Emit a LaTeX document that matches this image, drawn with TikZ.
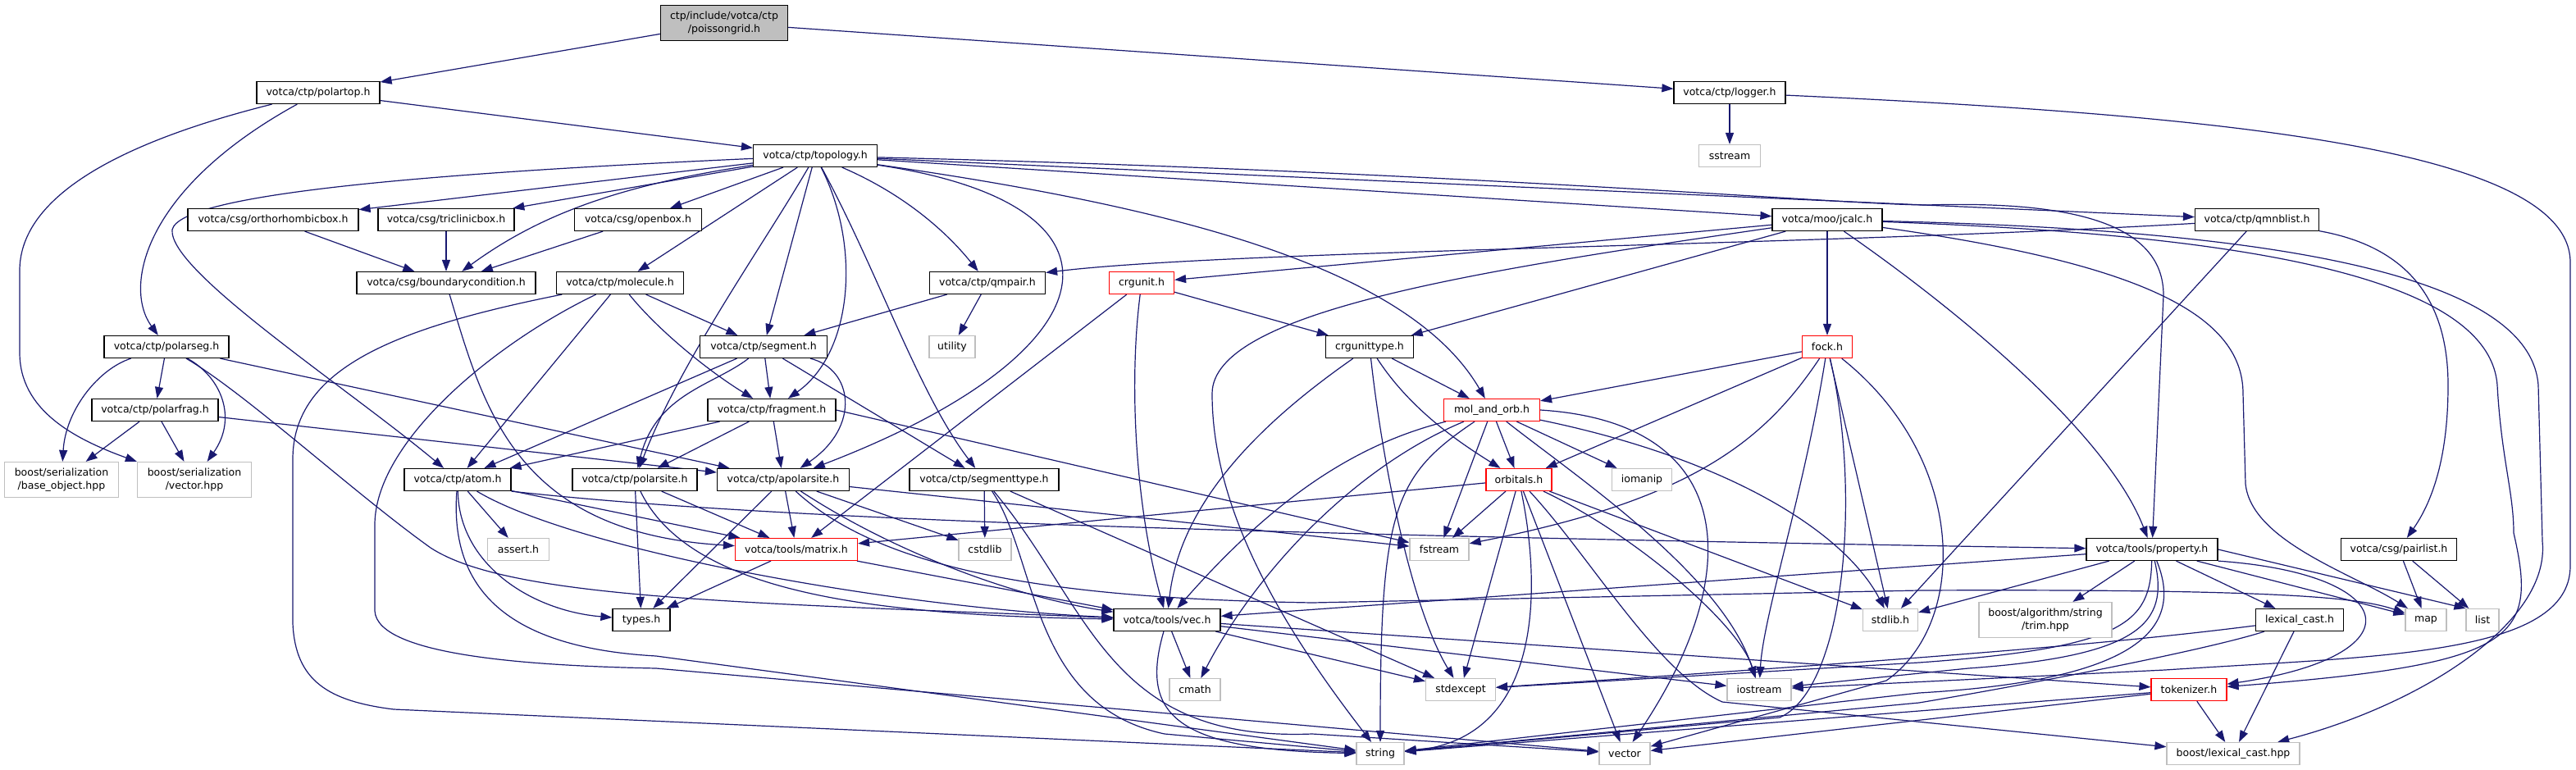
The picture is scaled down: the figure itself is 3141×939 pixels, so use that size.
\documentclass[tikz,border=0pt]{standalone}
\usepackage{fontspec}
\newfontfamily\dvs{DejaVu Sans}
\usetikzlibrary{arrows.meta}
\definecolor{edgec}{HTML}{191970}
\definecolor{extc}{HTML}{BFBFBF}
\pgfdeclarelayer{background}
\pgfsetlayers{background,main}
\begin{document}
\begin{tikzpicture}[x=1pt,y=-1pt,
  nd/.style={draw=black,fill=white,line width=1.2pt,minimum height=27pt,inner sep=0pt,
             font=\dvs\fontsize{12.5}{16}\selectfont,align=center},
  ext/.style={nd,draw=extc},
  trunc/.style={nd,draw=red},
  rootnd/.style={nd,fill=extc,draw=black},
  tall/.style={minimum height=43pt},
  conn/.style={draw=edgec,line width=1.2pt,-{Triangle[length=14pt,width=10pt]}}
]
\useasboundingbox (0,0) rectangle (3141,939);
% ---------------- nodes ----------------
\node[rootnd,tall,minimum width=155pt] (pg) at (883,28) {ctp/include/votca/ctp\\/poissongrid.h};
\node[nd,minimum width=150pt] (polartop) at (388,113) {votca/ctp/polartop.h};
\node[nd,minimum width=136pt] (logger) at (2109,113) {votca/ctp/logger.h};
\node[ext,minimum width=75pt] (sstream) at (2109,190) {sstream};
\node[nd,minimum width=151pt] (topology) at (994,190) {votca/ctp/topology.h};
\node[nd,minimum width=208pt] (ortho) at (333,268) {votca/csg/orthorhombicbox.h};
\node[nd,minimum width=166pt] (tricl) at (544,268) {votca/csg/triclinicbox.h};
\node[nd,minimum width=155pt] (openbox) at (778,268) {votca/csg/openbox.h};
\node[nd,minimum width=134pt] (jcalc) at (2228,268) {votca/moo/jcalc.h};
\node[nd,minimum width=151pt] (qmnblist) at (2752,268) {votca/ctp/qmnblist.h};
\node[nd,minimum width=218pt] (bc) at (544,345) {votca/csg/boundarycondition.h};
\node[nd,minimum width=155pt] (molecule) at (756,345) {votca/ctp/molecule.h};
\node[nd,minimum width=141pt] (qmpair) at (1204,345) {votca/ctp/qmpair.h};
\node[trunc,minimum width=79pt] (crgunit) at (1392,345) {crgunit.h};
\node[nd,minimum width=152pt] (polarseg) at (203,423) {votca/ctp/polarseg.h};
\node[nd,minimum width=155pt] (segment) at (931,423) {votca/ctp/segment.h};
\node[ext,minimum width=56pt] (utility) at (1161,423) {utility};
\node[nd,minimum width=107pt] (crgunittype) at (1670,423) {crgunittype.h};
\node[trunc,minimum width=61pt] (fock) at (2228,423) {fock.h};
\node[nd,minimum width=154pt] (polarfrag) at (189,500) {votca/ctp/polarfrag.h};
\node[nd,minimum width=156pt] (fragment) at (941,500) {votca/ctp/fragment.h};
\node[trunc,minimum width=117pt] (molorb) at (1819,500) {mol\_and\_orb.h};
\node[ext,tall,minimum width=139pt] (baseobj) at (75,585) {boost/serialization\\/base\_object.hpp};
\node[ext,tall,minimum width=139pt] (vechpp) at (237,585) {boost/serialization\\/vector.hpp};
\node[nd,minimum width=130pt] (atom) at (558,585) {votca/ctp/atom.h};
\node[nd,minimum width=152pt] (polarsite) at (774,585) {votca/ctp/polarsite.h};
\node[nd,minimum width=161pt] (apolarsite) at (955,585) {votca/ctp/apolarsite.h};
\node[nd,minimum width=182pt] (segtype) at (1200,585) {votca/ctp/segmenttype.h};
\node[trunc,minimum width=80pt] (orbitals) at (1852,585) {orbitals.h};
\node[ext,minimum width=73pt] (iomanip) at (2002,585) {iomanip};
\node[ext,minimum width=75pt] (assert) at (632,670) {assert.h};
\node[trunc,minimum width=149pt] (matrix) at (971,670) {votca/tools/matrix.h};
\node[ext,minimum width=64pt] (cstdlib) at (1201,670) {cstdlib};
\node[ext,minimum width=72pt] (fstream) at (1755,670) {fstream};
\node[nd,minimum width=160pt] (property) at (2624,670) {votca/tools/property.h};
\node[nd,minimum width=141pt] (pairlist) at (2925,670) {votca/csg/pairlist.h};
\node[nd,minimum width=70pt] (types) at (782,756) {types.h};
\node[nd,minimum width=130pt] (vec) at (1423,756) {votca/tools/vec.h};
\node[ext,minimum width=67pt] (stdlib) at (2305,756) {stdlib.h};
\node[ext,tall,minimum width=162pt] (trim) at (2494,756) {boost/algorithm/string\\/trim.hpp};
\node[nd,minimum width=107pt] (lexcast) at (2804,756) {lexical\_cast.h};
\node[ext,minimum width=50pt] (map) at (2958,756) {map};
\node[ext,minimum width=40pt] (list) at (3027,756) {list};
\node[ext,minimum width=62pt] (cmath) at (1457,841) {cmath};
\node[ext,minimum width=85pt] (stdexcept) at (1781,841) {stdexcept};
\node[ext,minimum width=78pt] (iostream) at (2145,841) {iostream};
\node[trunc,minimum width=92pt] (tokenizer) at (2669,841) {tokenizer.h};
\node[ext,minimum width=58pt] (string) at (1683,919) {string};
\node[ext,minimum width=62pt] (vector) at (1981,919) {vector};
\node[ext,minimum width=162pt] (blc) at (2723,919) {boost/lexical\_cast.hpp};
% ---------------- edges ----------------
\begin{pgfonlayer}{background}
\fill[white] (0,0) rectangle (3141,939);
% root
\draw[conn] (pg) -- (polartop);
\draw[conn] (pg) -- (logger);
% polartop
\draw[conn] (polartop) -- (topology);
\draw[conn] (polartop) .. controls (175,230) and (150,350) .. (polarseg);
\draw[conn] (polartop) .. controls (120,180) and (24,250) .. (24,330) -- (24,430) .. controls (24,500) and (90,535) .. (vechpp.north west);
% logger
\draw[conn] (logger) -- (sstream);
\draw[conn] (logger) .. controls (2700,140) and (3134,180) .. (3134,320) -- (3134,690) .. controls (3134,800) and (2900,800) .. (2640,817) -- (iostream);
% topology
\draw[conn] (topology) -- (ortho);
\draw[conn] (topology) -- (tricl);
\draw[conn] (topology) -- (openbox);
\draw[conn] (topology) .. controls (760,225) and (660,260) .. (bc);
\draw[conn] (topology) -- (molecule);
\draw[conn] (topology) .. controls (500,212) and (220,238) .. (210,280) .. controls (205,330) and (420,470) .. (atom);
\draw[conn] (topology) .. controls (930,300) and (830,440) .. (polarsite);
\draw[conn] (topology) -- (segment);
\draw[conn] (topology) .. controls (1050,300) and (1040,430) .. (fragment);
\draw[conn] (topology) .. controls (1400,250) and (1360,430) .. (apolarsite);
\draw[conn] (topology) .. controls (1070,330) and (1120,480) .. (segtype);
\draw[conn] (topology) .. controls (1110,240) and (1160,290) .. (qmpair);
\draw[conn] (topology) -- (jcalc);
\draw[conn] (topology) -- (qmnblist);
\draw[conn] (topology) .. controls (1800,210) and (2250,250) .. (2350,250) .. controls (2520,245) and (2638,270) .. (2638,360) -- (property);
\draw[conn] (topology) .. controls (1450,255) and (1720,330) .. (molorb);
% csg boxes
\draw[conn] (ortho) -- (bc);
\draw[conn] (tricl) -- (bc);
\draw[conn] (openbox) -- (bc);
\draw[conn] (bc) .. controls (590,500) and (630,650) .. (matrix);
% molecule
\draw[conn] (molecule) .. controls (480,400) and (357,450) .. (357,560) -- (357,760) .. controls (360,830) and (400,855) .. (480,865) -- (string);
\draw[conn] (molecule) .. controls (600,420) and (457,540) .. (457,640) -- (457,745) .. controls (460,800) and (650,812) .. (800,815) -- (vector);
\draw[conn] (molecule) -- (atom);
\draw[conn] (molecule) -- (segment);
\draw[conn] (molecule) .. controls (800,400) and (860,450) .. (fragment);
% segment
\draw[conn] (segment) -- (atom);
\draw[conn] (segment) .. controls (870,470) and (800,480) .. (polarsite);
\draw[conn] (segment) -- (fragment);
\draw[conn] (segment) -- (segtype);
\draw[conn] (segment) .. controls (1040,450) and (1050,520) .. (apolarsite);
% qmpair, crgunit
\draw[conn] (qmpair) -- (segment);
\draw[conn] (qmpair) -- (utility);
\draw[conn] (crgunit) -- (crgunittype);
\draw[conn] (crgunit) -- (matrix);
\draw[conn] (crgunit) .. controls (1376,470) and (1385,620) .. (vec);
% jcalc
\draw[conn] (jcalc) -- (crgunit);
\draw[conn] (jcalc) -- (crgunittype);
\draw[conn] (jcalc) -- (fock);
\draw[conn] (jcalc) .. controls (2390,380) and (2570,530) .. (property);
\draw[conn] (jcalc) .. controls (2600,320) and (2735,380) .. (2735,480) -- (2738,590) .. controls (2745,660) and (2870,700) .. (map);
\draw[conn] (jcalc) .. controls (2700,285) and (3035,330) .. (3045,470) .. controls (3050,560) and (3065,600) .. (3065,650) .. controls (3095,780) and (3070,810) .. (tokenizer);
\draw[conn] (jcalc) .. controls (2750,280) and (3085,330) .. (3095,470) -- (3100,660) .. controls (3110,760) and (2950,860) .. (blc);
\draw[conn] (jcalc) .. controls (1800,330) and (1478,380) .. (1478,480) .. controls (1478,620) and (1560,760) .. (string);
% qmnblist
\draw[conn] (qmnblist) .. controls (2200,300) and (1500,305) .. (qmpair.10);
\draw[conn] (qmnblist) -- (stdlib);
\draw[conn] (qmnblist) .. controls (2930,300) and (2985,360) .. (2985,470) .. controls (2985,570) and (2960,620) .. (pairlist);
% polarseg, polarfrag
\draw[conn] (polarseg) -- (polarfrag);
\draw[conn] (polarseg) .. controls (120,450) and (80,500) .. (baseobj);
\draw[conn] (polarseg) .. controls (270,460) and (290,510) .. (vechpp);
\draw[conn] (polarseg) -- (apolarsite);
\draw[conn] (polarseg) .. controls (300,480) and (430,600) .. (525,668) .. controls (620,730) and (900,735) .. (vec);
\draw[conn] (polarfrag) -- (baseobj);
\draw[conn] (polarfrag) -- (vechpp);
\draw[conn] (polarfrag) -- (apolarsite);
% fragment
\draw[conn] (fragment) -- (atom);
\draw[conn] (fragment) -- (polarsite);
\draw[conn] (fragment) -- (apolarsite);
\draw[conn] (fragment.east) -- (fstream);
% atom
\draw[conn] (atom) -- (assert);
\draw[conn] (atom) .. controls (560,690) and (650,745) .. (types);
\draw[conn] (atom) .. controls (700,670) and (1080,740) .. (vec);
\draw[conn] (atom) -- (matrix);
\draw[conn] (atom.south east) .. controls (900,630) and (1400,650) .. (property);
\draw[conn] (atom) .. controls (548,720) and (620,790) .. (800,800) -- (string);
% polarsite
\draw[conn] (polarsite) -- (types);
\draw[conn] (polarsite) -- (matrix);
\draw[conn] (polarsite) .. controls (840,720) and (1050,750) .. (vec);
% apolarsite
\draw[conn] (apolarsite) -- (types);
\draw[conn] (apolarsite) -- (matrix);
\draw[conn] (apolarsite) .. controls (1100,680) and (1250,730) .. (vec);
\draw[conn] (apolarsite) -- (cstdlib);
\draw[conn] (apolarsite) -- (fstream);
\draw[conn] (apolarsite) .. controls (1080,700) and (1300,730) .. (1600,735) -- (2340,720) .. controls (2800,718) and (2880,730) .. (map);
% segmenttype
\draw[conn] (segtype) -- (cstdlib);
\draw[conn] (segtype) .. controls (1265,680) and (1255,860) .. (1420,895) -- (string);
\draw[conn] (segtype) .. controls (1330,740) and (1350,905) .. (1600,895) -- (vector);
\draw[conn] (segtype) -- (stdexcept);
% matrix, vec
\draw[conn] (matrix) -- (types);
\draw[conn] (matrix) -- (vec);
\draw[conn] (vec) -- (cmath);
\draw[conn] (vec) .. controls (1390,870) and (1430,915) .. (string);
\draw[conn] (vec) -- (stdexcept);
\draw[conn] (vec) -- (iostream);
\draw[conn] (vec) -- (tokenizer);
% orbitals
\draw[conn] (orbitals) -- (matrix);
\draw[conn] (orbitals) -- (fstream);
\draw[conn] (orbitals) -- (stdexcept);
\draw[conn] (orbitals) .. controls (1880,720) and (1880,900) .. (string);
\draw[conn] (orbitals) -- (vector);
\draw[conn] (orbitals) .. controls (1940,680) and (2020,820) .. (2100,856) -- (blc);
\draw[conn] (orbitals) .. controls (1990,650) and (2120,760) .. (iostream);
\draw[conn] (orbitals) -- (stdlib);
% mol_and_orb
\draw[conn] (molorb) -- (orbitals);
\draw[conn] (molorb) -- (iomanip);
\draw[conn] (molorb) -- (fstream);
\draw[conn] (molorb) .. controls (1700,580) and (1683,620) .. (string);
\draw[conn] (molorb) .. controls (1920,580) and (2100,700) .. (iostream);
\draw[conn] (molorb.east) .. controls (2120,515) and (2130,700) .. (vector);
\draw[conn] (molorb) .. controls (2110,560) and (2250,650) .. (stdlib);
\draw[conn] (molorb) .. controls (1660,540) and (1560,600) .. (vec);
\draw[conn] (molorb) .. controls (1650,570) and (1530,700) .. (cmath);
% fock
\draw[conn] (fock) -- (molorb);
\draw[conn] (fock) -- (orbitals);
\draw[conn] (fock) .. controls (2150,540) and (2060,610) .. (fstream);
\draw[conn] (fock) .. controls (2200,600) and (2150,750) .. (iostream);
\draw[conn] (fock) .. controls (2270,600) and (2250,840) .. (2170,875) -- (string);
\draw[conn] (fock) -- (stdlib);
\draw[conn] (fock) .. controls (2400,560) and (2400,760) .. (2300,830) -- (vector);
% crgunittype
\draw[conn] (crgunittype) .. controls (1685,560) and (1720,740) .. (stdexcept);
\draw[conn] (crgunittype) .. controls (1720,500) and (1780,540) .. (orbitals);
\draw[conn] (crgunittype) -- (molorb);
\draw[conn] (crgunittype) .. controls (1560,500) and (1440,600) .. (vec);
% property
\draw[conn] (property) -- (vec);
\draw[conn] (property) -- (stdlib);
\draw[conn] (property) -- (trim);
\draw[conn] (property) .. controls (2622,760) and (2590,790) .. (2340,808) -- (stdexcept);
\draw[conn] (property) .. controls (2645,760) and (2610,800) .. (2400,815) -- (iostream);
\draw[conn] (property) .. controls (2665,770) and (2600,830) .. (2340,845) -- (string);
\draw[conn] (property) -- (lexcast);
\draw[conn] (property) -- (map);
\draw[conn] (property.south east) .. controls (2930,700) and (2950,800) .. (tokenizer);
\draw[conn] (property.east) -- (list.north west);
% pairlist
\draw[conn] (pairlist) -- (map);
\draw[conn] (pairlist) -- (list);
% lexical_cast
\draw[conn] (lexcast) .. controls (2600,782) and (2400,800) .. (stdexcept);
\draw[conn] (lexcast) .. controls (2700,790) and (2500,830) .. (2340,857) -- (string);
\draw[conn] (lexcast) -- (blc);
% tokenizer
\draw[conn] (tokenizer) -- (string);
\draw[conn] (tokenizer) -- (vector);
\draw[conn] (tokenizer) -- (blc);
\end{pgfonlayer}
\end{tikzpicture}
\end{document}
